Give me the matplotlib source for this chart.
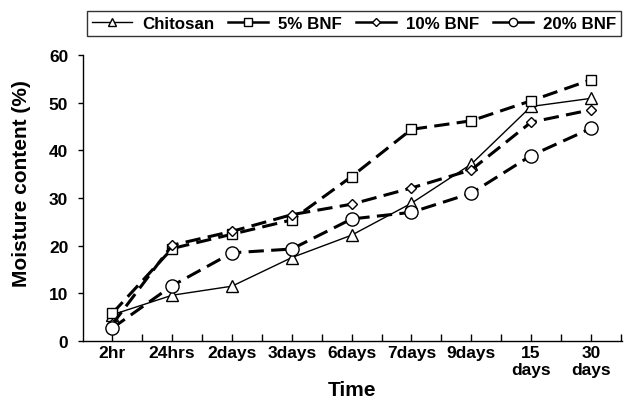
import matplotlib
matplotlib.use("Agg")
import matplotlib.pyplot as plt
from matplotlib.ticker import FixedLocator
import numpy as np

categories = ["2hr", "24hrs", "2days", "3days", "6days", "7days", "9days", "15\ndays", "30\ndays"]
chitosan = [5.5, 9.6, 11.5, 17.5, 22.2, 28.9, 37.1, 49.2, 50.9]
bnf5 = [5.8, 19.4, 22.4, 25.4, 34.5, 44.4, 46.2, 50.4, 54.8]
bnf10 = [3.5, 20.1, 23.0, 26.5, 28.7, 32.1, 35.9, 45.9, 48.5]
bnf20 = [2.7, 11.6, 18.5, 19.3, 25.6, 27.0, 31.0, 38.9, 44.6]
series_names = ["Chitosan", "5% BNF", "10% BNF", "20% BNF"]
yticks = [0, 10, 20, 30, 40, 50, 60]

plt.rcParams['font.family'] = ['Liberation Sans', 'DejaVu Sans']
plt.rcParams['font.weight'] = 'bold'

W, H = 625, 402
fig = plt.figure(figsize=(W / 100, H / 100), dpi=100)
ax = fig.add_axes([83 / W, 1 - 342 / H, (622 - 83) / W, (342 - 56) / H])

x = np.arange(len(categories))
dash = (0, (5.0, 2.4))
common = dict(color='black', markerfacecolor='white', markeredgecolor='black', markeredgewidth=1.0)

l1, = ax.plot(x, chitosan, linestyle='-', linewidth=1.0, marker='^', markersize=8.5,
              label=series_names[0], zorder=3, **common)
l2, = ax.plot(x, bnf5, linestyle=dash, linewidth=2.2, marker='s', markersize=7.3,
              label=series_names[1], zorder=3, **common)
l3, = ax.plot(x, bnf10, linestyle=dash, linewidth=2.2, marker='D', markersize=5.3,
              label=series_names[2], zorder=3, **common)
l4, = ax.plot(x, bnf20, linestyle=dash, linewidth=2.2, marker='o', markersize=9.5,
              label=series_names[3], zorder=3, **common)

ax.set_xlim(-0.49, 8.52)
ax.set_ylim(0, 60)
ax.set_xticks(x)
ax.set_xticklabels(categories, fontsize=12.5, fontweight='bold', linespacing=1.15)
ax.xaxis.set_minor_locator(FixedLocator(np.arange(0.5, 9.0, 1.0)))
ax.set_yticks(yticks)
ax.set_yticklabels([str(v) for v in yticks], fontsize=12.5, fontweight='bold')

ax.tick_params(axis='x', which='both', direction='in', length=5, width=1, pad=3)
ax.tick_params(axis='y', direction='out', length=3.6, width=1, pad=7)
for s in ['top', 'right']:
    ax.spines[s].set_visible(False)
for s in ['left', 'bottom']:
    ax.spines[s].set_linewidth(1.0)

ax.set_xlabel("Time", fontsize=15, fontweight='bold')
ax.xaxis.set_label_coords(0.5, -(396 - 342) / (342 - 56), transform=ax.transAxes)
ax.xaxis.label.set_va('baseline')
ax.set_ylabel("Moisture content (%)", fontsize=15, fontweight='bold')
ax.yaxis.set_label_coords(-(83 - 22) / (622 - 83), (342 - 184) / (342 - 56), transform=ax.transAxes)
ax.yaxis.label.set_va('center')

leg = fig.legend(handles=[l1, l2, l3, l4], loc='upper right', bbox_to_anchor=(621 / W, 1 - 12 / H),
                 ncol=4, frameon=True, fancybox=False, edgecolor='black', fontsize=12.2,
                 handlelength=2.36, handletextpad=0.59, columnspacing=0.82, borderpad=0.3,
                 borderaxespad=0)
leg.get_frame().set_linewidth(1.0)
msz = [6.0, 5.6, 4.2, 6.0]
for h, ms in zip(leg.legend_handles, msz):
    h.set_markersize(ms)
    h.set_linestyle('-')
leg.legend_handles[0].set_linewidth(1.0)
for h in leg.legend_handles[1:]:
    h.set_linewidth(1.8)
for t in leg.get_texts():
    t.set_fontweight('bold')

fig.savefig("out.png", dpi=100)
